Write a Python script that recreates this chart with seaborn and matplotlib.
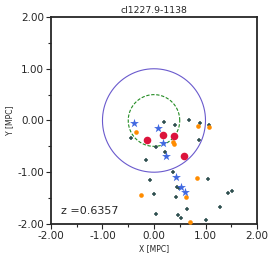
import numpy as np
import pandas as pd
import matplotlib
matplotlib.use("Agg")
import matplotlib.pyplot as plt
from matplotlib.ticker import MultipleLocator, FormatStrFormatter
import seaborn as sns

# Data

cluster_name = "cl1227.9-1138"
redshift = 0.6357

red_x = [-0.14, 0.18, 0.39, 0.58]
red_y = [-0.38, -0.28, -0.30, -0.68]

star_x = [-0.39, 0.08, 0.17, 0.24, 0.42, 0.53, 0.61]
star_y = [-0.05, -0.14, -0.43, -0.69, -1.09, -1.28, -1.38]

orange_x = [-0.35, 0.37, 0.39, 0.86, 1.07, 0.83, 0.62, -0.26, 0.70]
orange_y = [-0.22, -0.41, -0.46, -0.10, -0.13, -1.12, -1.48, -1.45, -1.97]

plus_x = [0.19, 0.41, 0.68, 0.89, 1.07, -0.45, 0.88, 0.03, 0.21, -0.16,
          0.36, -0.07, 1.05, 0.44, 0.49, 0.42, 0.00, 1.43, 1.51, 1.29,
          0.65, 0.04, 0.46, 0.52, 1.00]
plus_y = [-0.03, -0.09, 0.00, -0.05, -0.09, -0.34, -0.37, -0.51, -0.61, -0.76,
          -1.00, -1.16, -1.14, -1.29, -1.31, -1.47, -1.43, -1.40, -1.36, -1.68,
          -1.71, -1.81, -1.83, -1.88, -1.93]

circle_radii = [1.0, 0.5]

# Plot

sns.set_style("ticks")
plt.rcParams["font.family"] = ["DejaVu Sans"]
plt.rcParams["axes.unicode_minus"] = False

fig = plt.figure(figsize=(2.74, 2.58), dpi=100)
ax = fig.add_axes([0.186, 0.132, 0.752, 0.802])

sns.scatterplot(x=plus_x, y=plus_y, marker="+", color="#2F4F4F",
                s=9, linewidth=1.1, ax=ax, zorder=3)
sns.scatterplot(x=orange_x, y=orange_y, marker="o", color="darkorange",
                s=11, linewidth=0, ax=ax, zorder=4)
sns.scatterplot(x=star_x, y=star_y, marker="*", color="royalblue",
                s=45, linewidth=0, ax=ax, zorder=5)
sns.scatterplot(x=red_x, y=red_y, marker="o", color="crimson",
                s=30, linewidth=0, ax=ax, zorder=6)

theta = np.linspace(0, 2 * np.pi, 400)
ax.plot(circle_radii[0] * np.cos(theta), circle_radii[0] * np.sin(theta),
        color="slateblue", linewidth=0.8, zorder=2)
ax.plot(circle_radii[1] * np.cos(theta), circle_radii[1] * np.sin(theta),
        color="forestgreen", linewidth=0.8, linestyle="--",
        dashes=(3, 1.5), zorder=2)

ax.text(-1.8, -1.8, f"z ={redshift:.4f}", fontsize=8)

ax.set_xlim(-2, 2)
ax.set_ylim(-2, 2)

ax.xaxis.set_major_locator(MultipleLocator(1))
ax.yaxis.set_major_locator(MultipleLocator(1))
ax.xaxis.set_minor_locator(MultipleLocator(0.5))
ax.yaxis.set_minor_locator(MultipleLocator(0.5))
ax.xaxis.set_major_formatter(FormatStrFormatter("%.2f"))
ax.yaxis.set_major_formatter(FormatStrFormatter("%.2f"))

ax.tick_params(which="major", direction="out", length=3.5, width=0.8,
               labelsize=7.5, pad=1.5)
ax.tick_params(which="minor", direction="out", length=2, width=0.8)

for spine in ax.spines.values():
    spine.set_visible(True)
    spine.set_linewidth(1.3)

ax.set_xlabel("X [MPC]", fontsize=5.5, labelpad=2)
ax.set_ylabel("Y [MPC]", fontsize=5.5, labelpad=2)
ax.set_title(cluster_name, fontsize=6.7, pad=3)

fig.savefig("out.png", dpi=100)
plt.close()
